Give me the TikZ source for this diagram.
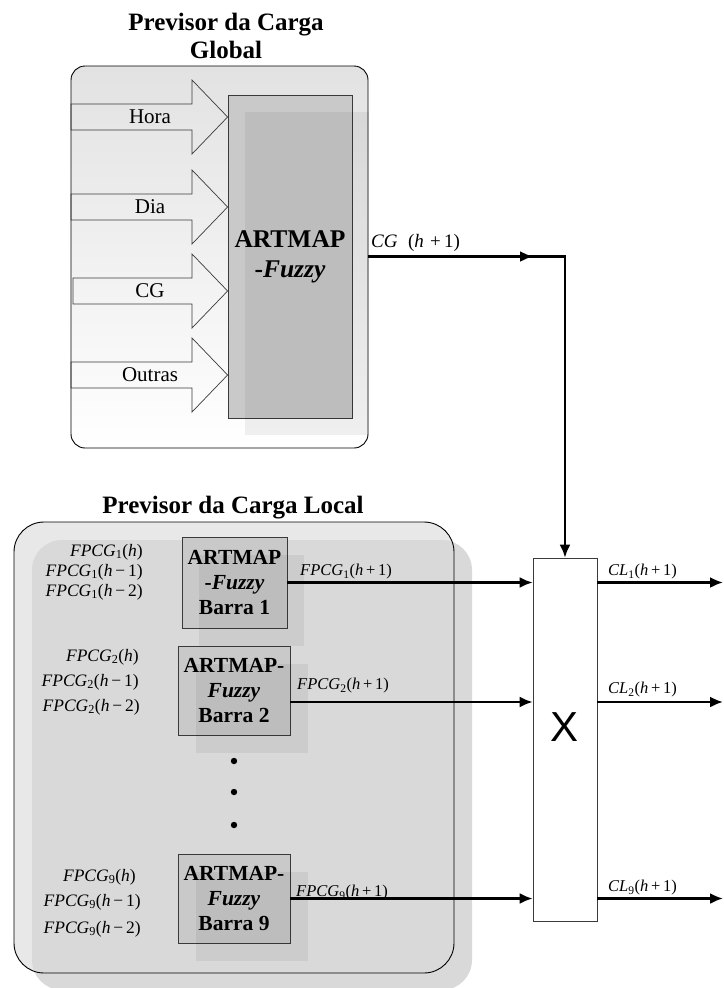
\documentclass[tikz,border=0pt]{standalone}
\usepackage{fontspec}
\setmainfont{Liberation Serif}
\newfontfamily\sansX{Liberation Sans}
\usepackage{tikz}
\usetikzlibrary{arrows.meta,calc,positioning}
\definecolor{panelfront}{HTML}{E8E8E8}
\definecolor{panelshade}{HTML}{D9D9D9}
\definecolor{panelgrad}{HTML}{E2E2E2}
\definecolor{boxgray}{HTML}{C9C9C9}
\definecolor{linegray}{HTML}{3A3A3A}

\newcommand{\fpcg}[2]{\textit{FPCG}\textsubscript{#1}(\textit{h}#2)}
\newcommand{\clout}[1]{\textit{CL}\textsubscript{#1}(\textit{h}\,+\,1)}

\begin{document}
\begin{tikzpicture}[x=1pt, y=-1pt, >={Latex[length=13pt,width=11pt]},
    flow/.style={->, line width=2.2pt},
    title/.style={font=\fontsize{25}{28}\selectfont\bfseries, align=center},
    artbox/.style={draw=linegray, line width=0.8pt, fill=boxgray, align=center, inner sep=0pt},
    shadowbox/.style={fill=black, fill opacity=0.06, inner sep=0pt},
    blockarrow/.style={draw=linegray, line width=0.7pt},
    inlbl/.style={font=\fontsize{17.5}{20}\selectfont, inner sep=0pt},
    outlbl/.style={font=\fontsize{16.5}{19}\selectfont, inner sep=0pt, anchor=west}]

  \useasboundingbox (0,0) rectangle (723,988);

  % ================= PREVISOR GLOBAL =================
  \node[title] (gtitle) at (226,36) {Previsor da Carga\\Global};
  \shade[top color=panelgrad, bottom color=white, rounded corners=14pt] (71,66) rectangle (368,448);
  \draw[line width=0.9pt, rounded corners=14pt] (71,66) rectangle (368,448);

  % ARTMAP box and its shadow
  \node[artbox, minimum width=124pt, minimum height=323pt,
        font=\fontsize{25.5}{30}\selectfont\bfseries] (artg) at (290,256.5)
    {ARTMAP\\-\textit{Fuzzy}};
  \node[shadowbox, minimum width=124pt, minimum height=323pt] (artgsh)
    at ([xshift=17pt,yshift=-17pt]artg.center) {};

  % Input block arrows
  \foreach \y/\lbl/\x in {117/Hora/71, 207/Dia/71, 291/CG/73, 375/Outras/71}{
    \draw[blockarrow] (\x,{\y-13}) -- (192,{\y-13}) -- (192,{\y-37}) -- (artg.west |- 0,\y)
      -- (192,{\y+37}) -- (192,{\y+13}) -- (\x,{\y+13}) -- cycle;
    \node[font=\fontsize{21}{24}\selectfont, inner sep=0pt] (in-\lbl) at (150,\y) {\lbl};
  }

  % Output CG(h+1)
  \coordinate (cgout) at ([xshift=16pt]artg.east);
  \node[font=\fontsize{19}{22}\selectfont, inner sep=0pt, anchor=west] (cglbl) at (371,243)
    {\textit{CG}\hspace{0.55em}(\textit{h}\,\,+\,1)};

  % ================= PREVISOR LOCAL =================
  \node[title] (ltitle) at (233,508) {Previsor da Carga Local};
  \fill[panelfront, rounded corners=30pt] (14,522) rectangle (454,973);
  \fill[panelshade, rounded corners=30pt] (32,540) rectangle (472,990);
  \draw[line width=0.9pt, rounded corners=30pt] (14,522) rectangle (454,973);

  \tikzset{barbox/.style={artbox, font=\fontsize{21.5}{25}\selectfont\bfseries}}
  \node[barbox, minimum width=105pt, minimum height=91pt] (box1) at (234.5,582.5)
    {ARTMAP\\-\textit{Fuzzy}\\Barra 1};
  \node[shadowbox, minimum width=105pt, minimum height=91pt] (box1sh)
    at ([xshift=17pt,yshift=-18pt]box1.center) {};
  \node[barbox, minimum width=112pt, minimum height=89pt] (box2) at (234,690.5)
    {ARTMAP-\\\textit{Fuzzy}\\Barra 2};
  \node[shadowbox, minimum width=112pt, minimum height=89pt] (box2sh)
    at ([xshift=18pt,yshift=-18pt]box2.center) {};
  \node[barbox, minimum width=112pt, minimum height=89pt] (box9) at (234,898.5)
    {ARTMAP-\\\textit{Fuzzy}\\Barra 9};
  \node[shadowbox, minimum width=112pt, minimum height=89pt] (box9sh)
    at ([xshift=18pt,yshift=-18pt]box9.center) {};

  % dots
  \foreach \y in {761,792,825}
    \fill (234,\y) circle (3.2pt);

  % inputs of each bar
  \node[inlbl, anchor=east] (f1a) at (143,552) {\fpcg{1}{}};
  \node[inlbl, anchor=east] (f1b) at (143,572) {\fpcg{1}{\,−\,1}};
  \node[inlbl, anchor=east] (f1c) at (143,592) {\fpcg{1}{\,−\,2}};
  \node[inlbl, anchor=east] (f2a) at (139,657) {\fpcg{2}{}};
  \node[inlbl, anchor=east] (f2b) at (139,682) {\fpcg{2}{\,−\,1}};
  \node[inlbl, anchor=east] (f2c) at (140,707) {\fpcg{2}{\,−\,2}};
  \node[inlbl, anchor=east] (f9a) at (136,877) {\fpcg{9}{}};
  \node[inlbl, anchor=east] (f9b) at (141,902) {\fpcg{9}{\,−\,1}};
  \node[inlbl, anchor=east] (f9c) at (141,929) {\fpcg{9}{\,−\,2}};

  % ================= MULTIPLICADOR =================
  \node[draw=linegray, line width=0.8pt, fill=white, minimum width=64pt, minimum height=363pt,
        inner sep=0pt] (xbox) at (565,739.5) {};
  \node[font=\sansX\fontsize{42}{42}\selectfont, inner sep=0pt] (xlbl) at (565,727) {X};

  % CG(h+1) into multiplier
  \coordinate (cgmid) at (533,256.5);
  \coordinate (cgturn) at (xbox.north |- cgout);
  \draw[flow] (cgout) -- (cgturn) -- (xbox.north);
  \draw[flow] (cgout) -- (cgmid);

  % bars into multiplier
  \coordinate (b2out) at ([yshift=-11.5pt]box2.east);
  \draw[flow] (box1.east) -- (box1.east -| xbox.west);
  \draw[flow] (b2out) -- (b2out -| xbox.west);
  \draw[flow] (box9.east) -- (box9.east -| xbox.west);
  \node[outlbl] (p1) at (300,572) {\fpcg{1}{\,+\,1}};
  \node[outlbl] (p2) at (297,686) {\fpcg{2}{\,+\,1}};
  \node[outlbl] (p9) at (296,893) {\fpcg{9}{\,+\,1}};

  % multiplier outputs
  \coordinate (cl1end) at (723,582.5);
  \coordinate (cl2end) at (b2out -| cl1end);
  \coordinate (cl9end) at (box9.east -| cl1end);
  \draw[flow] (box1.east -| xbox.east) -- (cl1end);
  \draw[flow] (b2out -| xbox.east) -- (cl2end);
  \draw[flow] (box9.east -| xbox.east) -- (cl9end);
  \node[outlbl] (c1) at (608,572) {\clout{1}};
  \node[outlbl] (c2) at (608,690) {\clout{2}};
  \node[outlbl] (c9) at (608,888) {\clout{9}};

\end{tikzpicture}
\end{document}
